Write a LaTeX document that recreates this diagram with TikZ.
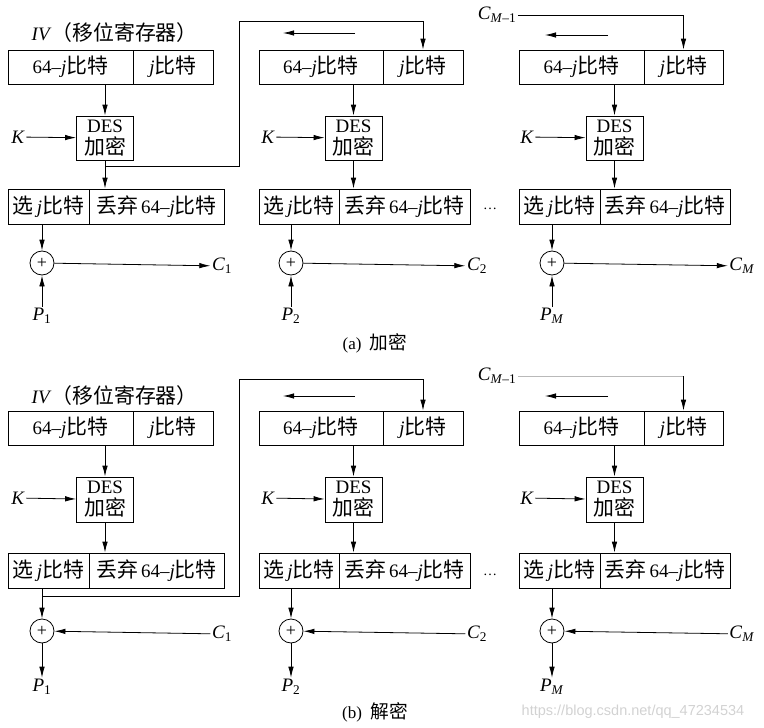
\documentclass[tikz,border=0pt]{standalone}
\usepackage{fontspec}
\setmainfont{Liberation Serif}
\newfontfamily\cjk{Noto Sans CJK SC}[Scale=1.1]
\newfontfamily\wmfont{Liberation Sans}
\usetikzlibrary{arrows.meta}
\newcommand\zh[1]{{\cjk #1}}
\newcommand\vj{\textit{j}}
\newcommand\vsub[2]{\textit{#1}\textsubscript{#2}}
\begin{document}
\begin{tikzpicture}[x=1pt,y=-1pt,
  font=\fontsize{19}{22}\selectfont,
  cellbox/.style={draw,line width=0.8pt,inner sep=0pt},
  desbox/.style={draw,line width=0.8pt,inner sep=0pt,align=center,minimum width=57pt},
  xorc/.style={draw,circle,line width=0.8pt,minimum size=24pt,inner sep=0pt,font=\fontsize{18}{18}\selectfont},
  arr/.style={-{Latex[length=11pt,width=5.5pt]},line width=0.8pt},
  ln/.style={line width=0.8pt},
  lbl/.style={inner sep=1.5pt}]
\useasboundingbox (0,0) rectangle (764,728);

% ================= (a) encryption =================
\node[anchor=west,lbl] (iva) at (30,33) {\textit{IV}\zh{（移位寄存器）}};
% block 1
\node[cellbox,minimum width=125pt,minimum height=34pt] (ta1) at (70.5,67) {64–\vj\zh{比特}};
\node[cellbox,minimum width=80pt,minimum height=34pt] (tb1) at (173,67) {\vj\zh{比特}};
\node[desbox,minimum height=44pt] (da1) at (105,138) {DES\\\zh{加密}};
\node[lbl] (ka1) at (18,137) {\textit{K}};
\node[cellbox,minimum width=81pt,minimum height=35pt] (sa1) at (48.5,206.5) {\zh{选}\,\vj\zh{比特}};
\node[cellbox,minimum width=135pt,minimum height=35pt] (qa1) at (156.5,206.5) {\zh{丢弃}\,64–\vj\zh{比特}};
\node[xorc] (xa1) at (42,263) {+};
\node[lbl] (ca1) at (222,266) {\vsub{C}{1}};
\node[lbl] (pa1) at (42,316) {\vsub{P}{1}};
\draw[arr] (da1.north |- ta1.south) -- (da1.north);
\draw[arr] (ka1) -- (da1);
\draw[arr] (da1.south) -- (da1.south |- sa1.north);
\draw[arr] (xa1.north |- sa1.south) -- (xa1.north);
\draw[arr] (xa1) -- (ca1);
\draw[arr] (pa1) -- (xa1);
\coordinate (fba1) at (105,166);
\coordinate (fba2) at (239,21);
% block 2
\node[cellbox,minimum width=124pt,minimum height=34pt] (ta2) at (321,67) {64–\vj\zh{比特}};
\node[cellbox,minimum width=80pt,minimum height=34pt] (tb2) at (423,67) {\vj\zh{比特}};
\node[desbox,minimum height=44pt] (da2) at (353.5,138) {DES\\\zh{加密}};
\node[lbl] (ka2) at (268,137) {\textit{K}};
\node[cellbox,minimum width=80pt,minimum height=35pt] (sa2) at (299,206.5) {\zh{选}\,\vj\zh{比特}};
\node[cellbox,minimum width=131pt,minimum height=35pt] (qa2) at (404.5,206.5) {\zh{丢弃}\,64–\vj\zh{比特}};
\node[xorc] (xa2) at (291,263) {+};
\node[lbl] (ca2) at (477,266) {\vsub{C}{2}};
\node[lbl] (pa2) at (291,316) {\vsub{P}{2}};
\draw[arr] (da2.north |- ta2.south) -- (da2.north);
\draw[arr] (ka2) -- (da2);
\draw[arr] (da2.south) -- (da2.south |- sa2.north);
\draw[arr] (xa2.north |- sa2.south) -- (xa2.north);
\draw[arr] (xa2) -- (ca2);
\draw[arr] (pa2) -- (xa2);
\draw[arr] (fba1) -| (fba2) -| (tb2.north);
\coordinate (sha2) at (355,33);
\coordinate (shb2) at (283,33);
\draw[arr] (sha2) -- (shb2);
\node[lbl] (dotsa) at (490,209) {\fontsize{14}{14}\selectfont\textellipsis};
% block 3
\node[cellbox,minimum width=125pt,minimum height=34pt] (ta3) at (581.5,67) {64–\vj\zh{比特}};
\node[cellbox,minimum width=79pt,minimum height=34pt] (tb3) at (683.5,67) {\vj\zh{比特}};
\node[desbox,minimum height=44pt] (da3) at (614.5,138) {DES\\\zh{加密}};
\node[lbl] (ka3) at (527,137) {\textit{K}};
\node[cellbox,minimum width=81pt,minimum height=35pt] (sa3) at (559.5,206.5) {\zh{选}\,\vj\zh{比特}};
\node[cellbox,minimum width=130pt,minimum height=35pt] (qa3) at (665,206.5) {\zh{丢弃}\,64–\vj\zh{比特}};
\node[xorc] (xa3) at (552,263) {+};
\node[lbl] (ca3) at (742,266) {\vsub{C}{\textit{M}}};
\node[lbl] (pa3) at (552,316) {\vsub{P}{\textit{M}}};
\draw[arr] (da3.north |- ta3.south) -- (da3.north);
\draw[arr] (ka3) -- (da3);
\draw[arr] (da3.south) -- (da3.south |- sa3.north);
\draw[arr] (xa3.north |- sa3.south) -- (xa3.north);
\draw[arr] (xa3) -- (ca3);
\draw[arr] (pa3) -- (xa3);
\node[lbl] (cma) at (497,15) {\vsub{C}{\textit{M}–1}};
\draw[arr] (cma.east) -| (tb3.north);
\coordinate (sha3) at (608,35);
\coordinate (shb3) at (545,35);
\draw[arr] (sha3) -- (shb3);
\node (capa) at (375,343) {\fontsize{17}{17}\selectfont (a)\ \ \zh{加密}};

% ================= (b) decryption =================
\node[anchor=west,lbl] (ivb) at (30,396) {\textit{IV}\zh{（移位寄存器）}};
% block 1
\node[cellbox,minimum width=125pt,minimum height=34pt] (tc1) at (70.5,428) {64–\vj\zh{比特}};
\node[cellbox,minimum width=80pt,minimum height=34pt] (td1) at (173,428) {\vj\zh{比特}};
\node[desbox,minimum height=45pt] (db1) at (105,499.5) {DES\\\zh{加密}};
\node[lbl] (kb1) at (18,498) {\textit{K}};
\node[cellbox,minimum width=81pt,minimum height=35pt] (sb1) at (48.5,570.5) {\zh{选}\,\vj\zh{比特}};
\node[cellbox,minimum width=135pt,minimum height=35pt] (qb1) at (156.5,570.5) {\zh{丢弃}\,64–\vj\zh{比特}};
\node[xorc] (xb1) at (42,631) {+};
\node[lbl] (cb1) at (222,634) {\vsub{C}{1}};
\node[lbl] (pb1) at (42,687) {\vsub{P}{1}};
\draw[arr] (db1.north |- tc1.south) -- (db1.north);
\draw[arr] (kb1) -- (db1);
\draw[arr] (db1.south) -- (db1.south |- sb1.north);
\draw[arr] (xb1.north |- sb1.south) -- (xb1.north);
\draw[arr] (cb1) -- (xb1);
\draw[arr] (xb1) -- (pb1);
\coordinate (fbb1) at (42,596);
\coordinate (fbb2) at (239,379);
% block 2
\node[cellbox,minimum width=124pt,minimum height=34pt] (tc2) at (321,428) {64–\vj\zh{比特}};
\node[cellbox,minimum width=80pt,minimum height=34pt] (td2) at (423,428) {\vj\zh{比特}};
\node[desbox,minimum height=45pt] (db2) at (353.5,499.5) {DES\\\zh{加密}};
\node[lbl] (kb2) at (268,498) {\textit{K}};
\node[cellbox,minimum width=80pt,minimum height=35pt] (sb2) at (299,570.5) {\zh{选}\,\vj\zh{比特}};
\node[cellbox,minimum width=131pt,minimum height=35pt] (qb2) at (404.5,570.5) {\zh{丢弃}\,64–\vj\zh{比特}};
\node[xorc] (xb2) at (291,631) {+};
\node[lbl] (cb2) at (477,634) {\vsub{C}{2}};
\node[lbl] (pb2) at (291,687) {\vsub{P}{2}};
\draw[arr] (db2.north |- tc2.south) -- (db2.north);
\draw[arr] (kb2) -- (db2);
\draw[arr] (db2.south) -- (db2.south |- sb2.north);
\draw[arr] (xb2.north |- sb2.south) -- (xb2.north);
\draw[arr] (cb2) -- (xb2);
\draw[arr] (xb2) -- (pb2);
\draw[arr] (fbb1) -| (fbb2) -| (td2.north);
\coordinate (shc2) at (355,396);
\coordinate (shd2) at (283,396);
\draw[arr] (shc2) -- (shd2);
\node[lbl] (dotsb) at (490,575) {\fontsize{14}{14}\selectfont\textellipsis};
% block 3
\node[cellbox,minimum width=125pt,minimum height=34pt] (tc3) at (581.5,428) {64–\vj\zh{比特}};
\node[cellbox,minimum width=79pt,minimum height=34pt] (td3) at (683.5,428) {\vj\zh{比特}};
\node[desbox,minimum height=45pt] (db3) at (614.5,499.5) {DES\\\zh{加密}};
\node[lbl] (kb3) at (527,498) {\textit{K}};
\node[cellbox,minimum width=81pt,minimum height=35pt] (sb3) at (559.5,570.5) {\zh{选}\,\vj\zh{比特}};
\node[cellbox,minimum width=130pt,minimum height=35pt] (qb3) at (665,570.5) {\zh{丢弃}\,64–\vj\zh{比特}};
\node[xorc] (xb3) at (552,631) {+};
\node[lbl] (cb3) at (742,634) {\vsub{C}{\textit{M}}};
\node[lbl] (pb3) at (552,687) {\vsub{P}{\textit{M}}};
\draw[arr] (db3.north |- tc3.south) -- (db3.north);
\draw[arr] (kb3) -- (db3);
\draw[arr] (db3.south) -- (db3.south |- sb3.north);
\draw[arr] (xb3.north |- sb3.south) -- (xb3.north);
\draw[arr] (cb3) -- (xb3);
\draw[arr] (xb3) -- (pb3);
\node[lbl] (cmb) at (497,376) {\vsub{C}{\textit{M}–1}};
\coordinate (cmbc) at (td3.north |- cmb.east);
\draw[ln,gray!55] (cmb.east) -- (cmbc);
\draw[arr] (cmbc) -- (td3.north);
\coordinate (shc3) at (608,396);
\coordinate (shd3) at (545,396);
\draw[arr] (shc3) -- (shd3);
\node (capb) at (375,712) {\fontsize{17}{17}\selectfont (b)\ \ \zh{解密}};
\node[text=gray!35] (wm) at (633,712) {\wmfont\fontsize{14.5}{15}\selectfont https://blog.csdn.net/qq\_47234534};
\end{tikzpicture}
\end{document}
